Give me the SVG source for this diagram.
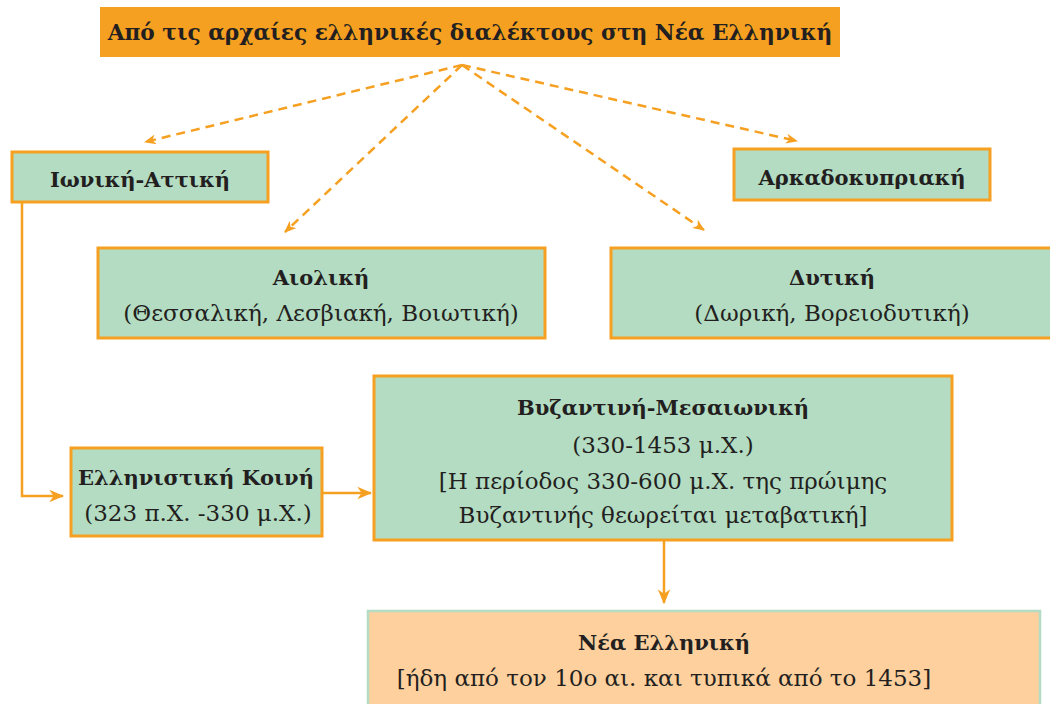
<svg xmlns="http://www.w3.org/2000/svg" width="1050" height="704" viewBox="0 0 1050 704">
<defs>
<style>
.box{fill:#b3dcc3;stroke:#f6a021;stroke-width:3}
.t{font-family:"DejaVu Serif","Liberation Serif",serif;font-size:23px;fill:#231f20;text-anchor:middle}
.b{font-weight:bold;font-size:21px}
.dash{fill:none;stroke:#f6a021;stroke-width:2.5;stroke-dasharray:9,6}
.solid{fill:none;stroke:#f6a021;stroke-width:2.5}
</style>
<marker id="ah" viewBox="0 0 12 10" refX="11" refY="5" markerWidth="12" markerHeight="10" markerUnits="userSpaceOnUse" orient="auto">
<path d="M0,0 L12,5 L0,10 L3.5,5 Z" fill="#f6a021"/>
</marker>
<marker id="ah2" viewBox="0 0 12 10" refX="11" refY="5" markerWidth="15" markerHeight="13" markerUnits="userSpaceOnUse" orient="auto">
<path d="M0,0 L12,5 L0,10 L3.5,5 Z" fill="#f6a021"/>
</marker>
</defs>
<g id="title">
<rect x="100" y="7" width="740" height="50" fill="#f6a021"/>
<text class="t b" x="470" y="40" style="font-size:21.7px">Από τις αρχαίες ελληνικές διαλέκτους στη Νέα Ελληνική</text>
</g>
<g id="ioniki">
<rect class="box" x="12" y="152" width="256" height="50"/>
<text class="t b" x="140" y="187">Ιωνική-Αττική</text>
</g>
<g id="arkado">
<rect class="box" x="734" y="149" width="256" height="51"/>
<text class="t b" x="862" y="185">Αρκαδοκυπριακή</text>
</g>
<g id="aioliki">
<rect class="box" x="98" y="248" width="447" height="90"/>
<text class="t b" x="321" y="285">Αιολική</text>
<text class="t" x="321" y="321">(Θεσσαλική, Λεσβιακή, Βοιωτική)</text>
</g>
<g id="dytiki">
<rect class="box" x="611" y="248" width="445" height="90"/>
<text class="t b" x="832" y="285">Δυτική</text>
<text class="t" x="832" y="321">(Δωρική, Βορειοδυτική)</text>
</g>
<g id="koini">
<rect class="box" x="71" y="448" width="251" height="88"/>
<text class="t b" x="196" y="485">Ελληνιστική Κοινή</text>
<text class="t" x="198" y="521">(323 π.Χ. -330 μ.Χ.)</text>
</g>
<g id="byzantini">
<rect class="box" x="374" y="376" width="578" height="164"/>
<text class="t b" x="663" y="415">Βυζαντινή-Μεσαιωνική</text>
<text class="t" x="663" y="453">(330-1453 μ.Χ.)</text>
<text class="t" x="663" y="489">[Η περίοδος 330-600 μ.Χ. της πρώιμης</text>
<text class="t" x="663" y="523">Βυζαντινής θεωρείται μεταβατική]</text>
</g>
<g id="nea">
<rect x="368" y="611" width="672" height="100" fill="#fdd09e" stroke="#b3dcc3" stroke-width="2.5"/>
<text class="t b" x="664" y="650">Νέα Ελληνική</text>
<text class="t" x="664" y="686">[ήδη από τον 10ο αι. και τυπικά από το 1453]</text>
</g>
<g id="connectors">
<line class="dash" x1="462" y1="65" x2="145" y2="142" marker-end="url(#ah)"/>
<line class="dash" x1="462" y1="65" x2="285" y2="232" marker-end="url(#ah)"/>
<line class="dash" x1="462" y1="65" x2="704" y2="230" marker-end="url(#ah)"/>
<line class="dash" x1="462" y1="65" x2="797" y2="141" marker-end="url(#ah)"/>
<polyline class="solid" points="22,202 22,496 63,496" marker-end="url(#ah2)"/>
<line class="solid" x1="322" y1="493" x2="371" y2="493" marker-end="url(#ah2)"/>
<line class="solid" x1="664" y1="541" x2="664" y2="603" marker-end="url(#ah2)"/>
</g>
</svg>
